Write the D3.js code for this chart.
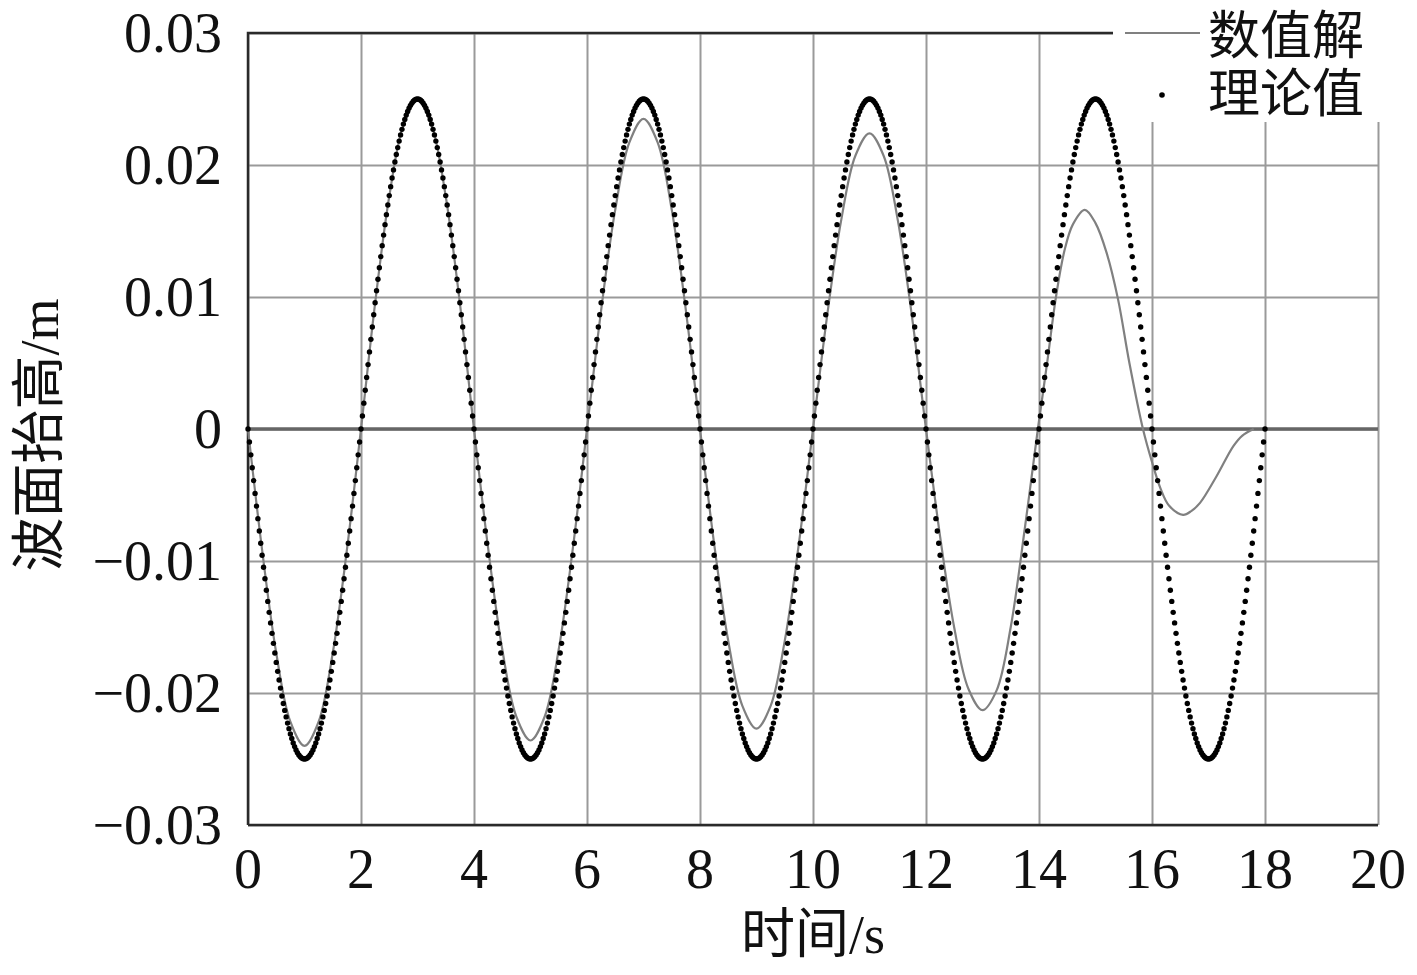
<!DOCTYPE html>
<html><head><meta charset="utf-8">
<script src="https://cdn.jsdelivr.net/npm/d3@7/dist/d3.min.js"></script>
<style>body{margin:0;background:#fff}svg{display:block}</style>
</head><body>
<svg id="c" width="1417" height="975"></svg>
<script>
const xTicks = [0,2,4,6,8,10,12,14,16,18,20];
const yTicks = [-0.03,-0.02,-0.01,0,0.01,0.02,0.03];
const yTickLabels = ["\u22120.03","\u22120.02","\u22120.01","0","0.01","0.02","0.03"];
const xTitle = "时间/s";
const yTitle = "波面抬高/m";
const legendNames = ["数值解","理论值"];

// numerical solution (数值解): time (s), elevation (m)
const numT = [0,0.25,0.5,0.75,1,1.25,1.5,1.75,2,2.25,2.5,2.75,3,3.25,3.5,3.75,4,4.25,4.5,4.75,5,5.25,5.5,5.75,6,6.25,6.5,6.75,7,7.25,7.5,7.75,8,8.25,8.5,8.75,9,9.25,9.5,9.75,10,10.25,10.5,10.75,11,11.25,11.5,11.75,12,12.25,12.5,12.75,13,13.25,13.5,13.75,13.98,14.15,14.3,14.45,14.6,14.81,15.0,15.2,15.4,15.6,15.84,16.0,16.15,16.3,16.55,16.7,16.85,17.14,17.44,17.6,17.8];
const numY = [0,-0.00918,-0.01697,-0.02217,-0.0240,-0.02217,-0.01697,-0.00918,0,0.00953,0.01761,0.02300,0.0249,0.02300,0.01761,0.00953,0,-0.00903,-0.01669,-0.02180,-0.0236,-0.02180,-0.01669,-0.00903,0,0.00899,0.01662,0.02171,0.0235,0.02171,0.01662,0.00899,0,-0.00869,-0.01605,-0.02097,-0.0227,-0.02097,-0.01605,-0.00869,0,0.00857,0.01584,0.02070,0.0224,0.02070,0.01584,0.00857,0,-0.00815,-0.01506,-0.01968,-0.0213,-0.0198,-0.0150,-0.0075,0,0.0052,0.0100,0.0135,0.0155,0.0166,0.0156,0.0133,0.0098,0.0050,0,-0.0025,-0.0045,-0.0058,-0.0065,-0.0062,-0.0056,-0.0036,-0.0013,-0.0005,0];

// theoretical values (理论值), sampled every 0.025 s from 0 to 18 s
const theoryStep = 0.025;
const theoryY = [
0,-0.00098,-0.00196,-0.00294,-0.00391,-0.00488,-0.00584,-0.00679,-0.00773,-0.00865,-0.00957,-0.01047,-0.01135,-0.01222,-0.01306,-0.01389,-0.01469,-0.01548,-0.01624,-0.01697,-0.01768,-0.01836,-0.01901,-0.01963,-0.02023,-0.02079,-0.02132,-0.02181,-0.02228,-0.02270,-0.02310,-0.02345,-0.02378,-0.02406,-0.02431,-0.02452,-0.02469,-0.02483,-0.02492,-0.02498,
-0.025,-0.02498,-0.02492,-0.02483,-0.02469,-0.02452,-0.02431,-0.02406,-0.02378,-0.02345,-0.02310,-0.02270,-0.02228,-0.02181,-0.02132,-0.02079,-0.02023,-0.01963,-0.01901,-0.01836,-0.01768,-0.01697,-0.01624,-0.01548,-0.01469,-0.01389,-0.01306,-0.01222,-0.01135,-0.01047,-0.00957,-0.00865,-0.00773,-0.00679,-0.00584,-0.00488,-0.00391,-0.00294,-0.00196,-0.00098,
0,0.00098,0.00196,0.00294,0.00391,0.00488,0.00584,0.00679,0.00773,0.00865,0.00957,0.01047,0.01135,0.01222,0.01306,0.01389,0.01469,0.01548,0.01624,0.01697,0.01768,0.01836,0.01901,0.01963,0.02023,0.02079,0.02132,0.02181,0.02228,0.02270,0.02310,0.02345,0.02378,0.02406,0.02431,0.02452,0.02469,0.02483,0.02492,0.02498,
0.025,0.02498,0.02492,0.02483,0.02469,0.02452,0.02431,0.02406,0.02378,0.02345,0.02310,0.02270,0.02228,0.02181,0.02132,0.02079,0.02023,0.01963,0.01901,0.01836,0.01768,0.01697,0.01624,0.01548,0.01469,0.01389,0.01306,0.01222,0.01135,0.01047,0.00957,0.00865,0.00773,0.00679,0.00584,0.00488,0.00391,0.00294,0.00196,0.00098,
0,-0.00098,-0.00196,-0.00294,-0.00391,-0.00488,-0.00584,-0.00679,-0.00773,-0.00865,-0.00957,-0.01047,-0.01135,-0.01222,-0.01306,-0.01389,-0.01469,-0.01548,-0.01624,-0.01697,-0.01768,-0.01836,-0.01901,-0.01963,-0.02023,-0.02079,-0.02132,-0.02181,-0.02228,-0.02270,-0.02310,-0.02345,-0.02378,-0.02406,-0.02431,-0.02452,-0.02469,-0.02483,-0.02492,-0.02498,
-0.025,-0.02498,-0.02492,-0.02483,-0.02469,-0.02452,-0.02431,-0.02406,-0.02378,-0.02345,-0.02310,-0.02270,-0.02228,-0.02181,-0.02132,-0.02079,-0.02023,-0.01963,-0.01901,-0.01836,-0.01768,-0.01697,-0.01624,-0.01548,-0.01469,-0.01389,-0.01306,-0.01222,-0.01135,-0.01047,-0.00957,-0.00865,-0.00773,-0.00679,-0.00584,-0.00488,-0.00391,-0.00294,-0.00196,-0.00098,
0,0.00098,0.00196,0.00294,0.00391,0.00488,0.00584,0.00679,0.00773,0.00865,0.00957,0.01047,0.01135,0.01222,0.01306,0.01389,0.01469,0.01548,0.01624,0.01697,0.01768,0.01836,0.01901,0.01963,0.02023,0.02079,0.02132,0.02181,0.02228,0.02270,0.02310,0.02345,0.02378,0.02406,0.02431,0.02452,0.02469,0.02483,0.02492,0.02498,
0.025,0.02498,0.02492,0.02483,0.02469,0.02452,0.02431,0.02406,0.02378,0.02345,0.02310,0.02270,0.02228,0.02181,0.02132,0.02079,0.02023,0.01963,0.01901,0.01836,0.01768,0.01697,0.01624,0.01548,0.01469,0.01389,0.01306,0.01222,0.01135,0.01047,0.00957,0.00865,0.00773,0.00679,0.00584,0.00488,0.00391,0.00294,0.00196,0.00098,
0,-0.00098,-0.00196,-0.00294,-0.00391,-0.00488,-0.00584,-0.00679,-0.00773,-0.00865,-0.00957,-0.01047,-0.01135,-0.01222,-0.01306,-0.01389,-0.01469,-0.01548,-0.01624,-0.01697,-0.01768,-0.01836,-0.01901,-0.01963,-0.02023,-0.02079,-0.02132,-0.02181,-0.02228,-0.02270,-0.02310,-0.02345,-0.02378,-0.02406,-0.02431,-0.02452,-0.02469,-0.02483,-0.02492,-0.02498,
-0.025,-0.02498,-0.02492,-0.02483,-0.02469,-0.02452,-0.02431,-0.02406,-0.02378,-0.02345,-0.02310,-0.02270,-0.02228,-0.02181,-0.02132,-0.02079,-0.02023,-0.01963,-0.01901,-0.01836,-0.01768,-0.01697,-0.01624,-0.01548,-0.01469,-0.01389,-0.01306,-0.01222,-0.01135,-0.01047,-0.00957,-0.00865,-0.00773,-0.00679,-0.00584,-0.00488,-0.00391,-0.00294,-0.00196,-0.00098,
0,0.00098,0.00196,0.00294,0.00391,0.00488,0.00584,0.00679,0.00773,0.00865,0.00957,0.01047,0.01135,0.01222,0.01306,0.01389,0.01469,0.01548,0.01624,0.01697,0.01768,0.01836,0.01901,0.01963,0.02023,0.02079,0.02132,0.02181,0.02228,0.02270,0.02310,0.02345,0.02378,0.02406,0.02431,0.02452,0.02469,0.02483,0.02492,0.02498,
0.025,0.02498,0.02492,0.02483,0.02469,0.02452,0.02431,0.02406,0.02378,0.02345,0.02310,0.02270,0.02228,0.02181,0.02132,0.02079,0.02023,0.01963,0.01901,0.01836,0.01768,0.01697,0.01624,0.01548,0.01469,0.01389,0.01306,0.01222,0.01135,0.01047,0.00957,0.00865,0.00773,0.00679,0.00584,0.00488,0.00391,0.00294,0.00196,0.00098,
0,-0.00098,-0.00196,-0.00294,-0.00391,-0.00488,-0.00584,-0.00679,-0.00773,-0.00865,-0.00957,-0.01047,-0.01135,-0.01222,-0.01306,-0.01389,-0.01469,-0.01548,-0.01624,-0.01697,-0.01768,-0.01836,-0.01901,-0.01963,-0.02023,-0.02079,-0.02132,-0.02181,-0.02228,-0.02270,-0.02310,-0.02345,-0.02378,-0.02406,-0.02431,-0.02452,-0.02469,-0.02483,-0.02492,-0.02498,
-0.025,-0.02498,-0.02492,-0.02483,-0.02469,-0.02452,-0.02431,-0.02406,-0.02378,-0.02345,-0.02310,-0.02270,-0.02228,-0.02181,-0.02132,-0.02079,-0.02023,-0.01963,-0.01901,-0.01836,-0.01768,-0.01697,-0.01624,-0.01548,-0.01469,-0.01389,-0.01306,-0.01222,-0.01135,-0.01047,-0.00957,-0.00865,-0.00773,-0.00679,-0.00584,-0.00488,-0.00391,-0.00294,-0.00196,-0.00098,
0,0.00098,0.00196,0.00294,0.00391,0.00488,0.00584,0.00679,0.00773,0.00865,0.00957,0.01047,0.01135,0.01222,0.01306,0.01389,0.01469,0.01548,0.01624,0.01697,0.01768,0.01836,0.01901,0.01963,0.02023,0.02079,0.02132,0.02181,0.02228,0.02270,0.02310,0.02345,0.02378,0.02406,0.02431,0.02452,0.02469,0.02483,0.02492,0.02498,
0.025,0.02498,0.02492,0.02483,0.02469,0.02452,0.02431,0.02406,0.02378,0.02345,0.02310,0.02270,0.02228,0.02181,0.02132,0.02079,0.02023,0.01963,0.01901,0.01836,0.01768,0.01697,0.01624,0.01548,0.01469,0.01389,0.01306,0.01222,0.01135,0.01047,0.00957,0.00865,0.00773,0.00679,0.00584,0.00488,0.00391,0.00294,0.00196,0.00098,
0,-0.00098,-0.00196,-0.00294,-0.00391,-0.00488,-0.00584,-0.00679,-0.00773,-0.00865,-0.00957,-0.01047,-0.01135,-0.01222,-0.01306,-0.01389,-0.01469,-0.01548,-0.01624,-0.01697,-0.01768,-0.01836,-0.01901,-0.01963,-0.02023,-0.02079,-0.02132,-0.02181,-0.02228,-0.02270,-0.02310,-0.02345,-0.02378,-0.02406,-0.02431,-0.02452,-0.02469,-0.02483,-0.02492,-0.02498,
-0.025,-0.02498,-0.02492,-0.02483,-0.02469,-0.02452,-0.02431,-0.02406,-0.02378,-0.02345,-0.02310,-0.02270,-0.02228,-0.02181,-0.02132,-0.02079,-0.02023,-0.01963,-0.01901,-0.01836,-0.01768,-0.01697,-0.01624,-0.01548,-0.01469,-0.01389,-0.01306,-0.01222,-0.01135,-0.01047,-0.00957,-0.00865,-0.00773,-0.00679,-0.00584,-0.00488,-0.00391,-0.00294,-0.00196,-0.00098,
0];

const svg = d3.select("#c");
const L = 248, R = 1378, T = 33, B = 825;
const x = d3.scaleLinear().domain([0,20]).range([L,R]);
const y = d3.scaleLinear().domain([-0.03,0.03]).range([B,T]);
const serif = "'Liberation Serif','Times New Roman',serif";
const cjk = "'Liberation Serif','Noto Sans CJK SC',serif";

// grid
const gx = d3.axisBottom(x).tickValues(xTicks).tickSize(-(B-T)).tickFormat("");
svg.append("g").attr("transform",`translate(0,${B})`).call(gx)
  .call(g=>g.select(".domain").remove())
  .call(g=>g.selectAll("line").attr("stroke","#9a9a9a").attr("stroke-width",2));
const gy = d3.axisLeft(y).tickValues(yTicks).tickSize(-(R-L)).tickFormat("");
svg.append("g").attr("transform",`translate(${L},0)`).call(gy)
  .call(g=>g.select(".domain").remove())
  .call(g=>g.selectAll("line").attr("stroke","#9a9a9a").attr("stroke-width",2));
// zero line
svg.append("line").attr("x1",L).attr("x2",R).attr("y1",y(0)).attr("y2",y(0))
  .attr("stroke","#666").attr("stroke-width",3.5);
// frame
svg.append("path").attr("d",`M${L},${B}V${T}H${R}`).attr("fill","none").attr("stroke","#2a2a2a").attr("stroke-width",2.5);
svg.append("line").attr("x1",L).attr("x2",R).attr("y1",B).attr("y2",B).attr("stroke","#2a2a2a").attr("stroke-width",2.5);

// tick labels
svg.append("g").selectAll("text").data(yTicks).join("text")
  .attr("x",222).attr("y",d=>y(d)+19).attr("text-anchor","end")
  .attr("font-family",serif).attr("font-size",56).attr("fill","#111")
  .text((d,i)=>yTickLabels[i]);
svg.append("g").selectAll("text").data(xTicks).join("text")
  .attr("x",d=>x(d)).attr("y",888).attr("text-anchor","middle")
  .attr("font-family",serif).attr("font-size",56).attr("fill","#111")
  .text(d=>d);
// titles
svg.append("text").attr("x",813).attr("y",953).attr("text-anchor","middle")
  .attr("font-family",cjk).attr("font-size",54).attr("fill","#111").text(xTitle);
svg.append("text").attr("transform","translate(58,435) rotate(-90)").attr("text-anchor","middle")
  .attr("font-family",cjk).attr("font-size",54).attr("fill","#111").text(yTitle);

// numerical line
const numData = numT.map((t,i)=>({t, v:numY[i]}));
svg.append("path").datum(numData)
  .attr("d", d3.line().x(d=>x(d.t)).y(d=>y(d.v)).curve(d3.curveCatmullRom.alpha(0.5)))
  .attr("fill","none").attr("stroke","#808080").attr("stroke-width",2.2);

// theoretical dots
svg.append("g").selectAll("circle").data(theoryY).join("circle")
  .attr("cx",(d,i)=>x(i*theoryStep)).attr("cy",d=>y(d)).attr("r",2.7).attr("fill","#000");

// legend
svg.append("rect").attr("x",1113).attr("y",0).attr("width",304).attr("height",122).attr("fill","#fff");
svg.append("line").attr("x1",1125).attr("x2",1200).attr("y1",33).attr("y2",33).attr("stroke","#808080").attr("stroke-width",2.2);
svg.append("circle").attr("cx",1162).attr("cy",95).attr("r",2.8).attr("fill","#000");
svg.append("g").selectAll("text").data(legendNames).join("text")
  .attr("x",1208).attr("y",(d,i)=>54+i*58)
  .attr("font-family",cjk).attr("font-size",52).attr("fill","#111").text(d=>d);
</script>
</body></html>
